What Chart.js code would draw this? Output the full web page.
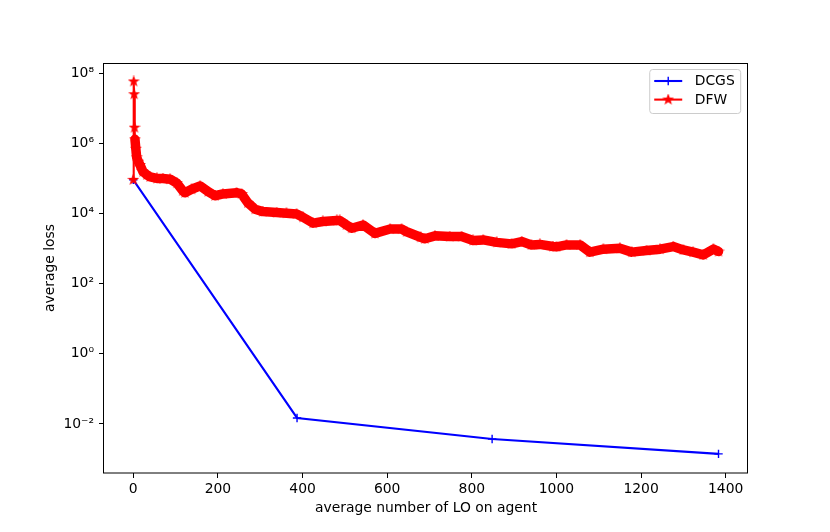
<!DOCTYPE html>
<html>
<head>
<meta charset="utf-8">
<script src="https://cdn.jsdelivr.net/npm/chart.js@4.4.0/dist/chart.umd.min.js"></script>
<style>
  html, body { margin: 0; padding: 0; background: #fff; }
  canvas { display: block; }
</style>
</head>
<body>
<canvas id="lossChart" width="830" height="532"></canvas>
<script>
// values
const dcgsX = [0, 387, 848, 1383];
const dcgsY = [9.1e4, 1.48e-2, 3.7e-3, 1.4e-3];

const dfwX = [0, 1, 2, 3, 4, 6, 8, 12, 16, 23,
  32, 40, 56, 70, 87, 103, 117, 122, 138, 158,
  177, 193, 212, 244, 256, 271, 288, 306, 339, 362,
  386, 401, 425, 448, 481, 488, 504, 516, 543, 571,
  607, 634, 646, 679, 689, 713, 748, 776, 803, 827,
  859, 894, 918, 941, 961, 992, 1000, 1024, 1056, 1079,
  1111, 1150, 1178, 1213, 1245, 1276, 1300, 1323, 1347, 1371,
  1383];
const dfwY = [9.1e4, 5.8e7, 2.5e7, 2.8e6, 1.3e6, 7.0e5, 4.0e5, 3.0e5, 2.4e5, 1.55e5,
  1.26e5, 1.1e5, 1.0e5, 9.9e4, 9.5e4, 7.3e4, 4.4e4, 3.9e4, 4.9e4, 6.1e4,
  4.2e4, 3.2e4, 3.6e4, 3.9e4, 3.6e4, 2.0e4, 1.32e4, 1.13e4, 1.06e4, 1.02e4,
  9.7e3, 7.8e3, 5.3e3, 5.9e3, 6.3e3, 6.3e3, 4.7e3, 3.8e3, 4.7e3, 2.7e3,
  3.6e3, 3.6e3, 3.0e3, 2.1e3, 1.9e3, 2.3e3, 2.2e3, 2.2e3, 1.7e3, 1.76e3,
  1.5e3, 1.36e3, 1.58e3, 1.27e3, 1.31e3, 1.14e3, 1.12e3, 1.27e3, 1.27e3, 790,
  960, 1020, 790, 875, 960, 1140, 915, 790, 660, 960,
  820];

const xTicks = [0, 200, 400, 600, 800, 1000, 1200, 1400];
const yTicks = [1e-2, 1e0, 1e2, 1e4, 1e6, 1e8];

const FS = 13.9;
Chart.defaults.font.family = 'DejaVu Sans';
Chart.defaults.font.size = FS;
Chart.defaults.color = 'black';

const SUP = {'-': '\u207B', '0': '\u2070', '1': '\u00B9', '2': '\u00B2', '3': '\u00B3',
  '4': '\u2074', '5': '\u2075', '6': '\u2076', '7': '\u2077', '8': '\u2078', '9': '\u2079'};
let powLabel = (v) => '10' + String(Math.round(Math.log10(v))).split('').map(c => SUP[c]).join('');

// filled five point star like matplotlib's '*'
function makeStar(color) {
  const c = document.createElement('canvas');
  c.width = 12; c.height = 12;
  const g = c.getContext('2d');
  g.beginPath();
  for (let i = 0; i < 10; i++) {
    const r = i % 2 === 0 ? 4.4 : 1.8;
    const a = -Math.PI / 2 + i * Math.PI / 5;
    g.lineTo(6 + r * Math.cos(a), 6 + r * Math.sin(a));
  }
  g.closePath();
  g.fillStyle = color;
  g.strokeStyle = color;
  g.lineWidth = 1.3;
  g.fill();
  g.stroke();
  return c;
}
const redStar = makeStar('#ff0000');

const frame = {
  id: 'frame',
  afterDraw(chart) {
    const {ctx, chartArea: a} = chart;
    ctx.save();
    ctx.strokeStyle = '#000';
    ctx.lineWidth = 1;
    ctx.strokeRect(a.left - 0.5, a.top + 0.5, a.right - a.left, a.bottom - a.top - 0.5);
    ctx.restore();
  }
};

const mplLegend = {
  id: 'mplLegend',
  afterDraw(chart) {
    const {ctx, chartArea: a} = chart;
    const sets = chart.data.datasets;
    ctx.save();
    ctx.font = FS + 'px "DejaVu Sans"';
    const textW = Math.max(...sets.map(d => ctx.measureText(d.label).width));
    const w = 45 + textW + 6, h = 44;
    const bx = a.right - 7.3 - w, by = a.top + 6.5;
    ctx.beginPath();
    if (ctx.roundRect) ctx.roundRect(bx, by, w, h, 3); else ctx.rect(bx, by, w, h);
    ctx.fillStyle = 'rgba(255,255,255,0.8)';
    ctx.fill();
    ctx.strokeStyle = '#cccccc';
    ctx.lineWidth = 1;
    ctx.stroke();
    sets.forEach((d, i) => {
      const y = by + 11.5 + i * 18.6;
      const x0 = bx + 4.5, x1 = bx + 32.5, xm = (x0 + x1) / 2;
      ctx.strokeStyle = d.borderColor;
      ctx.lineWidth = 2.08;
      ctx.beginPath();
      ctx.moveTo(x0, y); ctx.lineTo(x1, y);
      ctx.stroke();
      if (d.pointStyle === 'cross') {
        ctx.lineWidth = 1.4;
        ctx.beginPath();
        ctx.moveTo(xm - 4.2, y); ctx.lineTo(xm + 4.2, y);
        ctx.moveTo(xm, y - 4.2); ctx.lineTo(xm, y + 4.2);
        ctx.stroke();
      } else {
        ctx.drawImage(d.pointStyle, xm - 6, y - 6);
      }
      ctx.fillStyle = 'black';
      ctx.textBaseline = 'middle';
      ctx.textAlign = 'left';
      ctx.fillText(d.label, bx + 45, y + 0.5);
    });
    ctx.restore();
  }
};

const dcgsData = dcgsX.map((x, i) => ({x: x, y: dcgsY[i]}));
const dfwData = dfwX.map((x, i) => ({x: x, y: dfwY[i]}));

new Chart(document.getElementById('lossChart'), {
  type: 'line',
  data: {
    datasets: [{
      label: 'DCGS',
      data: dcgsData,
      order: 2,
      borderColor: '#0000ff',
      borderWidth: 2.08,
      pointStyle: 'cross',
      pointRadius: 4.2,
      pointBorderWidth: 1.4,
      pointBorderColor: '#0000ff',
      tension: 0
    }, {
      label: 'DFW',
      data: dfwData,
      order: 1,
      borderColor: '#ff0000',
      borderWidth: 2.08,
      borderJoinStyle: 'round',
      borderCapStyle: 'round',
      segment: {
        borderWidth: ctx => ctx.p0DataIndex < 4 ? 2.08 : 9.5
      },
      pointStyle: redStar,
      pointRadius: 5,
      tension: 0
    }]
  },
  options: {
    responsive: false,
    animation: false,
    events: [],
    devicePixelRatio: 1,
    layout: {padding: {left: 0, right: 82, top: 63, bottom: 0}},
    plugins: {legend: {display: false}, tooltip: {enabled: false}},
    scales: {
      x: {
        type: 'linear',
        min: -69.2,
        max: 1452.7,
        afterBuildTicks: s => { s.ticks = xTicks.map(v => ({value: v})); },
        afterFit: s => { s.height = 59; },
        ticks: {padding: 3, maxRotation: 0, color: 'black', callback: v => String(v)},
        grid: {drawOnChartArea: false, tickLength: 5, tickColor: '#000', tickWidth: 1},
        border: {display: false},
        title: {display: true, text: 'average number of LO on agent', color: 'black', padding: {top: 0, bottom: 15.7}}
      },
      y: {
        type: 'logarithmic',
        min: Math.pow(10, -3.40),
        max: Math.pow(10, 8.29),
        afterBuildTicks: s => { s.ticks = yTicks.map(v => ({value: v})); },
        afterFit: s => { s.width = 104; },
        ticks: {padding: 5, color: 'black', callback: v => powLabel(v)},
        grid: {drawOnChartArea: false, tickLength: 5, tickColor: '#000', tickWidth: 1},
        border: {display: false},
        title: {display: true, text: 'average loss', color: 'black', padding: {top: 41.7, bottom: 0}}
      }
    }
  },
  plugins: [frame, mplLegend]
});
</script>
</body>
</html>
